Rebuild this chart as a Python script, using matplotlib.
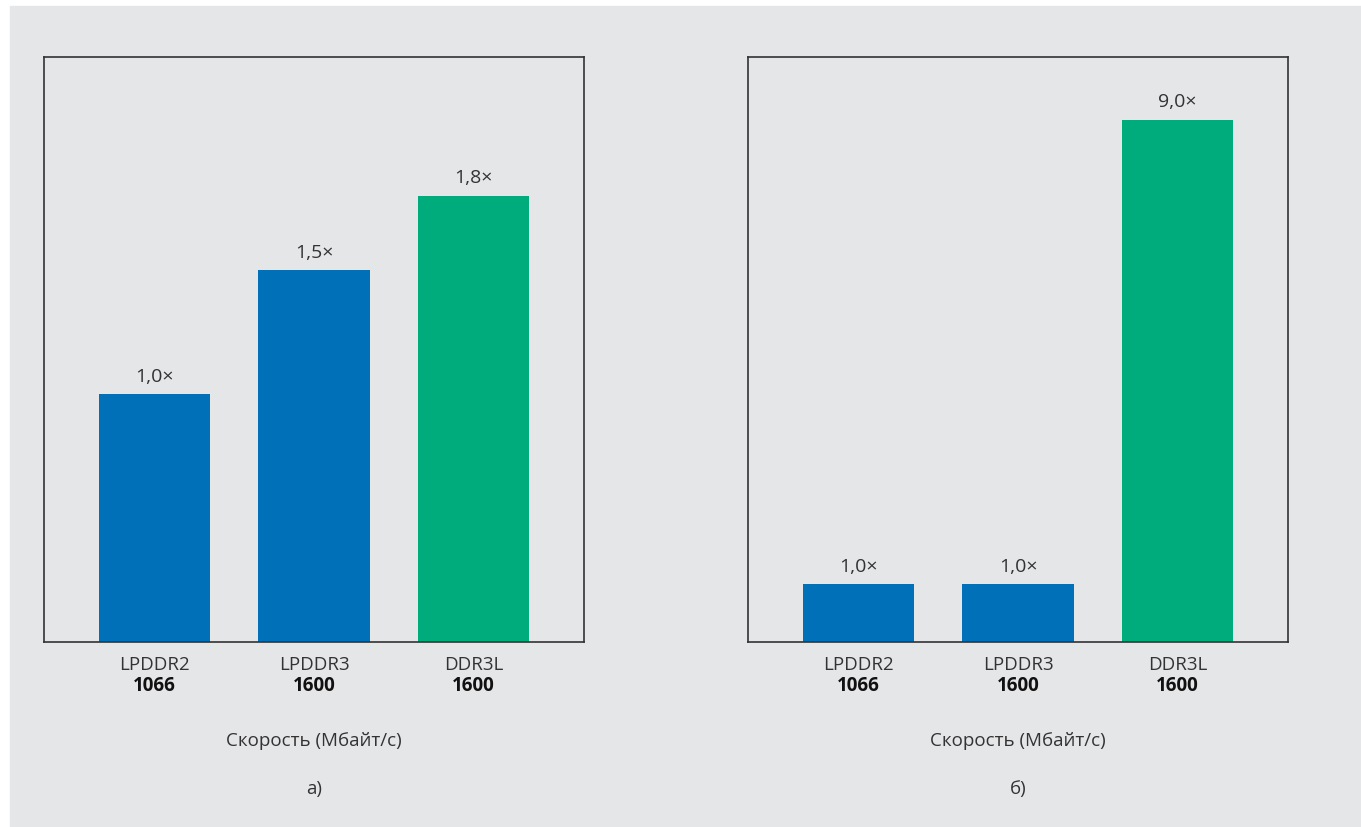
import matplotlib.pyplot as plt
from matplotlib.patches import Rectangle

plt.rcParams['font.family'] = ['Open Sans', 'DejaVu Sans']

# data
memory_types = ['LPDDR2', 'LPDDR3', 'DDR3L']
speeds = ['1066', '1600', '1600']
perf_a = [1.0, 1.5, 1.8]
perf_b = [1.0, 1.0, 9.0]
bar_colors = ['#0070b9', '#0070b9', '#00ac7b']
panel_labels = ['а)', 'б)']
xlabel = 'Скорость (Мбайт/с)'

BG = '#e5e6e8'
TXT = '#333333'

W, H = 1361, 827
fig = plt.figure(figsize=(W / 100, H / 100), dpi=100, facecolor='white')
fig.patches.append(Rectangle((10 / W, 0), 1 - 10 / W, 1 - 6 / H,
                             transform=fig.transFigure, color=BG, zorder=-10))


def fmt(v):
    return f'{v:.1f}'.replace('.', ',') + '×'


def panel(left_px, values, ymax, tag):
    ax = fig.add_axes([left_px / W, (H - 642) / H, 540 / W, 585 / H])
    ax.set_facecolor(BG)
    x = range(len(values))
    ax.bar(x, values, width=0.70, color=bar_colors, zorder=2)
    ax.set_xlim(-0.693, 2.693)
    ax.set_ylim(0, ymax)
    ax.set_yticks([])
    ax.set_xticks(list(x))
    ax.set_xticklabels(memory_types, fontsize=13.5, color=TXT)
    ax.tick_params(axis='x', length=0, pad=10)
    for s in ax.spines.values():
        s.set_color(TXT)
        s.set_linewidth(1.2)
    for i, v in enumerate(values):
        ax.annotate(fmt(v), (i, v), xytext=(0, 6), textcoords='offset points',
                    ha='center', va='bottom', fontsize=14, color=TXT)
        ax.annotate(speeds[i], (i, 0), xycoords=('data', 'axes fraction'),
                    xytext=(0, -32), textcoords='offset points',
                    ha='center', va='center', fontsize=13.5, fontweight='bold',
                    color='#111111')
    ax.annotate(xlabel, (0.5, 0), xycoords='axes fraction',
                xytext=(0, -71), textcoords='offset points',
                ha='center', va='center', fontsize=13.5, color=TXT)
    ax.annotate(tag, (0.5, 0), xycoords='axes fraction',
                xytext=(0, -106), textcoords='offset points',
                ha='center', va='center', fontsize=13.5, color=TXT)
    return ax


panel(44, perf_a, 2.36, panel_labels[0])
panel(748, perf_b, 10.08, panel_labels[1])

fig.savefig('out.png', dpi=100, facecolor=fig.get_facecolor())
